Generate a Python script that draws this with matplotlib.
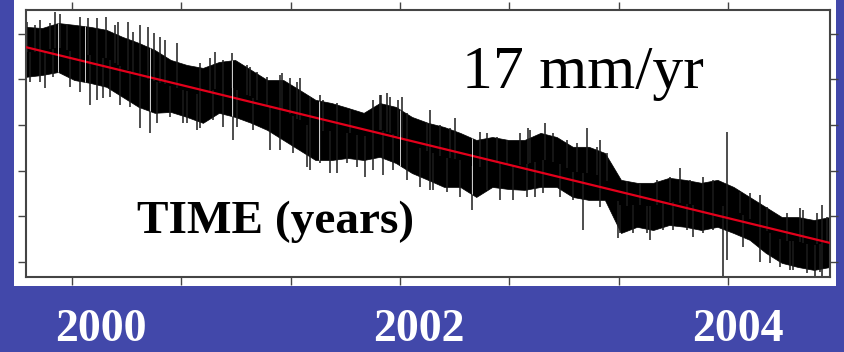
import numpy as np
import matplotlib
matplotlib.use("Agg")
import matplotlib.pyplot as plt
from matplotlib.patches import Rectangle
from matplotlib.transforms import blended_transform_factory

times = np.round(np.linspace(1999.53, 2004.58, 51), 3)
band_top = [43.0, 42.5, 44.7, 43.9, 43.0, 41.7, 38.6, 36.0, 32.9, 28.5,
            26.3, 25.0, 27.6, 28.5, 24.1, 19.7, 19.7, 15.4, 11.0, 9.6,
            7.5, 5.3, 9.6, 7.9, 3.5, 0.9, -0.9, -3.5, -6.6, -5.3,
            -6.6, -6.6, -3.5, -5.3, -9.6, -9.6, -12.3, -24.1, -25.4, -25.4,
            -23.2, -24.1, -25.4, -24.1, -27.2, -31.6, -36.0, -40.4, -40.4, -41.7,
            -40.4]
band_bottom = [21.1, 21.9, 23.2, 19.7, 18.4, 16.7, 12.3, 7.9, 5.3, 5.7,
               3.5, 0.9, 5.3, 3.5, 0.9, -2.2, -6.6, -11.0, -15.4, -15.4,
               -14.5, -15.4, -14.0, -16.7, -21.1, -24.1, -27.2, -27.2, -31.6, -27.2,
               -28.1, -28.5, -27.2, -27.2, -31.6, -32.9, -32.9, -47.4, -44.7, -46.1,
               -43.9, -44.7, -46.1, -44.7, -47.4, -50.4, -56.1, -60.5, -62.3, -63.6,
               -62.3]

# single days sticking out of the band (top side)
spike_up_t = [1999.538, 1999.589, 1999.620, 1999.683, 1999.714, 1999.746, 1999.790,
              1999.871, 1999.922, 1999.978, 2000.035, 2000.091, 2000.110, 2000.173,
              2000.204, 2000.248, 2000.298, 2000.336, 2000.374, 2000.405, 2000.481,
              2000.625, 2000.688, 2000.719, 2000.769, 2000.826, 2000.920, 2000.939,
              2000.983, 2001.045, 2001.127, 2001.140, 2001.190, 2001.234, 2001.253,
              2001.316, 2001.378, 2001.397, 2001.485, 2001.567, 2001.711, 2001.755,
              2001.761, 2001.799, 2001.818, 2001.868, 2001.893, 2001.925, 2002.050,
              2002.069, 2002.132, 2002.195, 2002.226, 2002.383, 2002.427, 2002.490,
              2002.553, 2002.634, 2002.684, 2002.697, 2002.791, 2002.841, 2002.929,
              2002.992, 2003.055, 2003.118, 2003.137, 2003.181, 2003.306, 2003.388,
              2003.494, 2003.576, 2003.639, 2003.702, 2003.783, 2003.846, 2003.934,
              2004.016, 2004.078, 2004.141, 2004.185, 2004.311, 2004.392, 2004.411,
              2004.499, 2004.531, 2004.562]
spike_up_v = [45.2, 43.9, 46.1, 44.7, 49.6, 48.7, 43.9,
              47.4, 46.9, 46.9, 47.4, 43.9, 45.2, 45.2,
              40.8, 43.9, 43.0, 40.4, 38.6, 37.3, 36.0,
              27.2, 29.4, 32.0, 28.5, 31.6, 26.3, 25.4,
              23.2, 21.1, 21.9, 22.8, 20.6, 18.9, 20.6,
              12.3, 13.2, 11.0, 9.6, 6.6, 11.0, 13.2,
              13.2, 14.0, 12.3, 11.0, 12.3, 5.3, 0.9,
              6.6, 0.0, -1.3, 3.1, -3.1, -3.5, -5.3,
              -6.6, -3.5, -1.3, -2.2, 0.9, -3.5, -6.6,
              -7.9, -1.3, -9.6, -6.6, -12.3, -25.0, -25.4,
              -24.1, -22.8, -18.9, -24.1, -22.8, -24.1, -3.1,
              -29.4, -29.8, -30.7, -35.9, -38.6, -36.4, -37.3,
              -38.6, -35.1, -40.4]

# single days sticking out of the band (bottom side)
spike_down_t = [1999.532, 1999.557, 1999.620, 1999.651, 1999.702, 1999.808, 1999.871,
                1999.934, 1999.978, 2000.016, 2000.060, 2000.123, 2000.185, 2000.248,
                2000.311, 2000.355, 2000.437, 2000.518, 2000.543, 2000.606, 2000.625,
                2000.706, 2000.769, 2000.832, 2000.857, 2000.958, 2001.064, 2001.127,
                2001.209, 2001.297, 2001.316, 2001.378, 2001.441, 2001.485, 2001.548,
                2001.611, 2001.661, 2001.711, 2001.774, 2001.837, 2001.925, 2002.006,
                2002.069, 2002.088, 2002.176, 2002.257, 2002.333, 2002.427, 2002.509,
                2002.590, 2002.678, 2002.728, 2002.779, 2002.885, 2002.967, 2003.030,
                2003.137, 2003.250, 2003.262, 2003.344, 2003.432, 2003.451, 2003.532,
                2003.595, 2003.683, 2003.721, 2003.783, 2003.846, 2003.909, 2003.934,
                2004.035, 2004.141, 2004.204, 2004.267, 2004.329, 2004.349, 2004.436,
                2004.487, 2004.518, 2004.531]
spike_down_v = [15.4, 18.9, 18.9, 16.2, 21.1, 16.7, 14.5,
                8.8, 11.0, 11.8, 12.3, 8.8, 7.9, -1.3,
                -3.5, 0.9, 3.5, 0.9, 0.9, -2.2, -1.3,
                2.2, -0.9, -6.6, -0.9, -2.2, -11.0, -11.0,
                -12.3, -18.4, -19.7, -16.7, -21.1, -21.1, -16.7,
                -18.4, -22.8, -19.7, -21.9, -19.7, -24.1, -27.2,
                -28.5, -28.5, -29.4, -31.6, -37.3, -28.5, -32.9,
                -32.9, -31.6, -31.6, -29.8, -31.6, -32.9, -46.1,
                -36.0, -49.6, -47.4, -47.4, -47.4, -50.4, -46.1,
                -46.1, -46.1, -49.1, -47.4, -46.1, -66.7, -59.2,
                -53.5, -60.1, -60.5, -62.3, -63.6, -63.6, -64.9,
                -66.7, -64.5, -66.2]

# data gaps (show as thin white lines through the band)
gap_t = [1999.733, 1999.903, 2000.311, 2000.826, 2001.372, 2001.881, 2002.333]

rate = -17.0          # mm/yr
offset_2000 = 26.1    # mm at 2000.0

year_labels = [2000, 2002, 2004]
tick_years = [1999.821, 2000.505, 2001.196, 2001.880, 2002.565, 2003.256, 2003.940]
tick_mm = [-60, -40, -20, 0, 20, 40]

serif = "Liberation Serif"

fig = plt.figure(figsize=(8.44, 3.52), dpi=100, facecolor="#4248aa")
fig.patches.append(Rectangle((0.0166, 0.1875), 0.974, 0.8125, transform=fig.transFigure,
                             facecolor="white", edgecolor="none", zorder=-5))

ax = fig.add_axes([0.0308, 0.2131, 0.9526, 0.7585])
ax.set_zorder(2)
ax.set_facecolor("white")

mid = (np.array(band_top) + np.array(band_bottom)) / 2

ax.fill_between(times, band_bottom, band_top, color="black", lw=0.5, zorder=2)
ax.vlines(spike_up_t, np.interp(spike_up_t, times, mid), spike_up_v,
          color="#1c1c1c", lw=1.1, zorder=2)
ax.vlines(spike_down_t, np.interp(spike_down_t, times, mid), spike_down_v,
          color="#1c1c1c", lw=1.1, zorder=2)

t_fit = np.array([times[0], times[-1]])
ax.plot(t_fit, offset_2000 + rate * (t_fit - 2000), color="#e3001b", lw=1.6, zorder=3)

ax.vlines(gap_t, np.interp(gap_t, times, band_bottom), np.interp(gap_t, times, band_top),
          color="white", lw=0.7, alpha=0.8, zorder=4)

ax.set_xlim(1999.53, 2004.58)
ax.set_ylim(-66.7, 50.4)
ax.set_xticks(tick_years)
ax.set_yticks(tick_mm)
ax.tick_params(direction="out", length=6, width=1, color="#444444",
               top=True, right=True, labelbottom=False, labelleft=False)
for sp in ax.spines.values():
    sp.set_color("#444444")
    sp.set_linewidth(1.5)

ax.text(0.547, 0.750, "17 mm/yr", transform=fig.transFigure, family=serif,
        fontsize=44.5, color="black", ha="left", va="baseline", zorder=6)
ax.text(0.162, 0.338, "TIME (years)", transform=fig.transFigure, family=serif,
        fontsize=34, weight="bold", color="black", ha="left", va="baseline", zorder=6)

trans = blended_transform_factory(ax.transData, fig.transFigure)
for yr in year_labels:
    ax.text(yr, 0.032, str(yr), transform=trans, family=serif, fontsize=33,
            weight="bold", color="white", ha="center", va="baseline", clip_on=False)

fig.savefig("out.png", dpi=100, facecolor=fig.get_facecolor())
